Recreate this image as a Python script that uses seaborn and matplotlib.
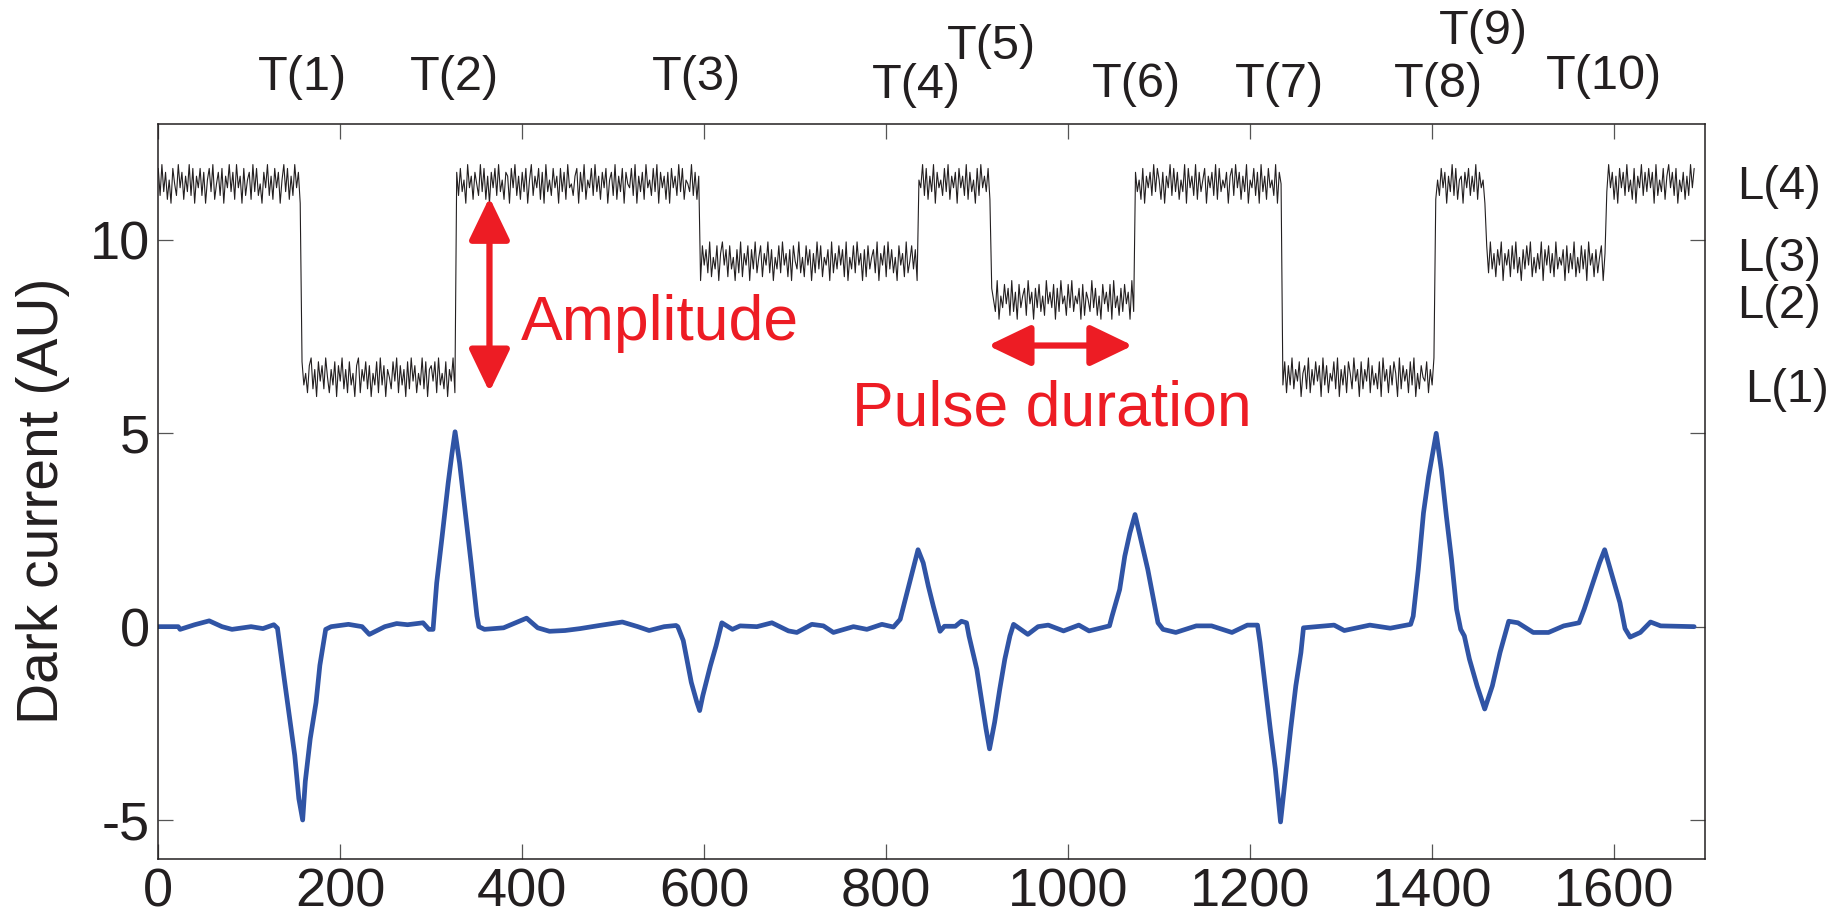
import numpy as np
import pandas as pd
import matplotlib
matplotlib.use("Agg")
import matplotlib.pyplot as plt
import seaborn as sns

# --- data ---
# black trace: signal levels between transitions T(1)..T(10)
level_edges = [0, 158, 327, 596, 835, 915, 1073, 1235, 1404, 1459, 1592]
level_values = [11.45, 6.45, 11.45, 9.45, 11.45, 8.45, 11.45, 6.45, 11.45, 9.45, 11.45]
trace_step = 2  # one sample every 2 units
# jitter on the black trace, in tenths, one value per sample
jitter = [
    4, -3, 5, -2, 3, -4, 1, -5, 4, 0, -3, 5, -1, 3, -4, 2, -2, 5, -3, 4,
    -5, 2, -1, 4, -3, 3, -5, 1, 4, -2, 5, -4, 0, 3, -3, 4, -5, 2, -1, 5,
    -2, 3, -4, 5, -1, 2, -5, 4, -3, 1, 3, -4, 5, -2, 4, -3, 0, -5, 3, -1,
    5, -3, 2, -4, 4, -1, 3, -5, 1, 5, -2, 4, -4, 2, -3, 5, -1, 3, -5, 4,
    -2, 1, -4, 3, 5, -3, 2, -5, 4, -1, 3, -3, 5, 0, -4, 2, -2, 4, -5, 3,
    -1, 5, -3, 2, -4, 4, -2, 1, -5, 3, 5, -4, 2, -1, 4, -3, 3, -5, 1, -2,
    4, -4, 5, -2, 3, -5, 2, 0, -3, 4, -1, 5, -4, 3, -2, 2, -5, 4, -3, 5,
    -1, 3, -4, 1, -2, 5, -3, 4, -5, 2, 3, -1, 4, -4, 5, -2, 1, -3, 4, -5,
    2, -1, 5, -4, 3, -3, 4, -2, 1, -5, 5, -1, 2, -4, 3, 0, -3, 5, -2, 4,
    -4, 2, -5, 3, -1, 4, -3, 5, -2, 1, -4, 3, 2, -5, 4, -1, 5, -3, 2, -4,
    3, -2, 4, -5, 1, 5, -3, 2, -1, 4, -4, 3, -5, 5, -2, 1, -3, 4, -1, 2,
    -5, 4, -2, 3, -4, 5, -1, 0, -3, 2, 4, -5, 3, -2, 5, -4, 1, -1, 4, -3,
    5, -2, 2, -4, 3, -1, 4, -5, 1, 3, -3, 5, -4, 2, -2, 4, -5, 3, 0, -1,
    4, -3, 5, -5, 2, -2, 3, -4, 5, -1, 1, -3, 4, -2, 5, -5, 3, -1, 2, -4,
    3, -5, 4, -1, 2, -3, 5, -2, 4, -4, 1, 0, -2, 5, -3, 3, -4, 2, -5, 4,
    -1, 3, -3, 5, -4, 1, -2, 4, -5, 2, 5, -1, 3, -4, 4, -2, 1, -5, 3, -3,
    5, -4, 2, -1, 4, -5, 3, -2, 5, -3, 1, 4, -4, 2, -1, 5, -3, 3, -5, 1,
    -2, 4, -3, 5, -1, 2, -4, 3, -5, 4, 0, -2, 5, -3, 1, -4, 4, -1, 3, -5,
    2, -3, 5, -2, 4, -4, 1, -1, 3, -5, 5, -3, 2, -2, 4, -1, 3, -4, 5, -5,
    1, -2, 4, -3, 5, -1, 2, -5, 3, -4, 4, -2, 1, 3, -3, 5, -5, 2, -1, 4,
    -4, 5, -2, 3, -3, 1, -5, 4, -1, 2, -4, 5, -3, 0, 4, -2, 3, -5, 1, -1,
    5, -3, 4, -4, 2, -2, 5, -5, 3, -1, 1, -3, 4, -2, 5, -4, 2, -1, 3, -5,
    4, -1, 2, -3, 5, -4, 3, -2, 1, -5, 4, -3, 5, -1, 2, -2, 4, -4, 3, 0,
    -3, 5, -5, 1, -2, 4, -1, 3, -4, 5, -3, 2, -5, 4, -2, 1, 3, -4, 5, -1,
    2, -5, 3, -2, 4, -3, 1, -4, 5, -1, 2, -2, 4, -5, 3, -3, 5, -1, 1, -4,
    4, -2, 5, -3, 1, -1, 3, -5, 4, -4, 2, 0, -3, 5, -2, 3, -4, 1, -5, 4,
    -1, 2, -3, 4, -5, 5, -2, 1, -4, 3, -3, 4, -1, 2, -5, 5, -3, 3, -2, 1,
    -4, 4, -5, 2, -1, 3, -3, 5, -2, 4, 1, -4, 3, -5, 2, -1, 5, -3, 4, -2,
    3, -4, 1, -2, 5, -5, 4, -1, 2, -3, 5, -4, 3, -2, 1, 4, -5, 2, -1, 3,
    -3, 5, -4, 4, -2, 1, -1, 3, -5, 2, 4, -3, 5, -1, 3, -4, 2, -2, 5, -5,
    1, -1, 4, -3, 3, -5, 5, -2, 2, -4, 4, -1, 1, -3, 5, -5, 3, 0, -2, 4,
    -4, 3, -2, 5, -3, 2, -1, 4, -5, 1, 3, -3, 5, -4, 2, -2, 4, -1, 3, -5,
    5, -2, 3, -4, 1, -1, 4, -3, 5, -5, 2, -2, 3, -4, 4, 1, -3, 5, -1, 2,
    -5, 4, -3, 2, -1, 5, -4, 3, -2, 1, -3, 4, -5, 5, -1, 2, -4, 3, -2, 4,
    1, -5, 5, -3, 3, -1, 2, -4, 4, -2, 5, -5, 1, -3, 3, 0, -1, 4, -4, 2,
    -2, 5, -4, 1, -3, 4, -1, 3, -5, 2, -2, 5, -3, 4, -4, 1, 2, -5, 3, -1,
    4, -3, 2, -2, 5, -4, 3, -1, 1, -5, 4, -3, 5, -2, 2, -4, 3, -1, 5, -5,
    2, -1, 3, -4, 4, -2, 5, -3, 1, -5, 3, -2, 4, -1, 5, -4, 1, -3, 2, -2,
    5, -5, 3, -1, 4, -3, 2, -4, 5, -2, 1, -1, 3, -5, 4, -3, 2, -2, 5, -4,
    1, -3, 4, -2, 3, -5, 5, -1, 2, -4, 3, -3, 1, 4, -5, 2, -2, 5, -1, 3,
    -4, 2, -5, 4, -1, 3, -3, 5, -2, 1, -4, 4, -5, 2, -1, 5, -3, 3, -2, 4,
    -1, 3, -5, 5, -3, 1, -2, 4, -4, 2, 5, -1, 3, -3, 4, -5, 1, -2, 3, -4,
    2, -3, 5, -1, 4,
]

# blue trace: vertices of the filtered signal
blue_x = [0, 22, 24, 40, 56, 70, 81, 102, 115, 127, 131,
          138, 144, 150, 154.5, 158.7, 161.6, 167, 173.4, 177.6, 184,
          190, 209, 224, 232, 249, 262, 274, 291, 297.5, 302,
          306, 312, 318.6, 322.8, 326.2, 331.2, 337.5, 343.8, 350.2, 352.3,
          358.5, 379.5, 404.8, 417, 430, 447, 463.7, 484.8, 510, 527, 539.5, 556, 569, 571,
          577, 585.8, 592, 595, 598.4, 606.8, 613, 619.4,
          631, 639.5, 658, 674.4, 692.6, 701.8, 718.3, 731, 742, 764, 778.8, 795.3, 808,
          815.4, 823.8, 829.4, 835, 840.7, 846.3, 851.9, 859.2, 864, 876, 882.7, 888.3,
          891, 899.6, 905.2, 909.7, 913.6, 919.2, 924.8, 930.4, 936, 940,
          955.7, 966.9, 978.1, 994.9, 1011.7, 1023, 1045.4,
          1048.2, 1056.6, 1062.2, 1067.8, 1073.5, 1079.1, 1087.5, 1093.1, 1098.7, 1104.3,
          1118.3, 1140.8, 1157.6, 1180, 1196.9, 1208.1,
          1210.9, 1216.5, 1222.1, 1227.7, 1233.4, 1239, 1244.6, 1250.2, 1255.8, 1258.6,
          1292.3, 1303.5, 1331.5, 1354, 1376.4,
          1379.2, 1384.8, 1390.5, 1396.1, 1404.5, 1410.1, 1415.7, 1421.3, 1426.9, 1431.4,
          1435.4, 1441, 1449.4, 1457.8, 1466.2, 1474.6, 1484.2,
          1494.3, 1511.1, 1527.9, 1544.7, 1561.5,
          1567.1, 1575.5, 1584, 1589.6, 1598, 1606.4, 1612, 1617.6, 1628.8, 1640, 1651.2, 1688]
blue_y = [0, 0, -0.07, 0.05, 0.15, 0.0, -0.07, 0.0, -0.05, 0.05, -0.04,
          -1.27, -2.3, -3.33, -4.45, -5.0, -4.0, -2.9, -1.96, -1.0, -0.07,
          0.0, 0.06, 0.0, -0.2, 0.0, 0.08, 0.05, 0.1, -0.07, -0.07,
          1.13, 2.34, 3.71, 4.48, 5.04, 4.23, 2.94, 1.65, 0.28, 0.0,
          -0.07, -0.03, 0.22, -0.03, -0.12, -0.1, -0.05, 0.03, 0.12, 0.0, -0.1, 0.0, 0.03, 0.0,
          -0.36, -1.44, -1.96, -2.17, -1.79, -1.01, -0.5, 0.1,
          -0.07, 0.02, 0.0, 0.1, -0.11, -0.15, 0.06, 0.02, -0.15, 0.0, -0.07, 0.06, -0.01,
          0.19, 0.96, 1.48, 1.99, 1.65, 1.05, 0.52, -0.12, 0.01, 0.01, 0.14, 0.1,
          -0.24, -1.1, -1.96, -2.64, -3.16, -2.47, -1.62, -0.84, -0.24, 0.06,
          -0.2, 0.0, 0.04, -0.11, 0.04, -0.11, 0.02,
          0.27, 0.96, 1.82, 2.42, 2.9, 2.33, 1.48, 0.79, 0.1, -0.07,
          -0.15, 0.02, 0.02, -0.15, 0.04, 0.04,
          -0.41, -1.53, -2.64, -3.68, -5.05, -3.85, -2.64, -1.53, -0.67, -0.03,
          0.04, -0.1, 0.04, -0.04, 0.06,
          0.27, 1.48, 2.94, 3.88, 5.0, 4.06, 2.85, 1.74, 0.45, -0.07,
          -0.24, -0.84, -1.53, -2.13, -1.53, -0.67, 0.14,
          0.1, -0.15, -0.15, 0.02, 0.1,
          0.45, 1.05, 1.65, 1.99, 1.31, 0.62, -0.05, -0.27, -0.15, 0.12, 0.02, 0.0]

t_labels = ["T(1)", "T(2)", "T(3)", "T(4)", "T(5)", "T(6)", "T(7)", "T(8)", "T(9)", "T(10)"]
t_label_x = [159, 326, 592, 833, 916, 1075, 1232, 1407, 1456, 1589]
t_label_y = [1.063, 1.063, 1.063, 1.053, 1.105, 1.054, 1.054, 1.054, 1.126, 1.064]

l_labels = ["L(4)", "L(3)", "L(2)", "L(1)"]
l_label_y = [11.37, 9.5, 8.28, 6.12]
l_label_x = [1.0205, 1.0205, 1.0205, 1.026]

# --- build the black trace ---
trace_x = np.arange(len(jitter)) * trace_step
lvl_idx = np.searchsorted(level_edges, trace_x, side="right") - 1
trace_y = np.array(level_values)[lvl_idx] + np.array(jitter) / 10.0
trace = pd.DataFrame({"x": trace_x, "y": trace_y})
blue = pd.DataFrame({"x": blue_x, "y": blue_y})

sns.set_theme(style="white")
plt.rcParams["font.family"] = ["Liberation Sans", "DejaVu Sans"]
plt.rcParams["axes.unicode_minus"] = False

ink = "#231F20"
red = "#ED1C24"
blue_col = "#3054A5"

fig = plt.figure(figsize=(18.36, 9.23), dpi=100)
ax = fig.add_axes([0.0862, 0.0697, 0.8425, 0.796])

sns.lineplot(data=trace, x="x", y="y", estimator=None, color=ink, linewidth=0.8, ax=ax)
sns.lineplot(data=blue, x="x", y="y", estimator=None, color=blue_col, linewidth=3.4, ax=ax)

ax.set_xlim(0, 1700)
ax.set_ylim(-6, 13)
ax.set_xticks(range(0, 1700, 200))
ax.set_yticks([-5, 0, 5, 10])
ax.set_xlabel("")
ax.set_ylabel("Dark current (AU)", fontsize=41, color=ink)
ax.yaxis.set_label_coords(-0.057, 0.487)

ax.tick_params(axis="both", which="major", direction="in", length=11, width=0.9,
               color="#555555", labelsize=39, labelcolor=ink, pad=6,
               top=True, right=True, bottom=True, left=True)
for sp in ax.spines.values():
    sp.set_visible(True)
    sp.set_color(ink)
    sp.set_linewidth(1.1)

# transition labels above the axes
for lab, tx, ty in zip(t_labels, t_label_x, t_label_y):
    ax.text(tx, ty, lab, transform=ax.get_xaxis_transform(), ha="center", va="center",
            fontsize=35, color=ink, clip_on=False)

# level labels on the right
for lab, lx, ly in zip(l_labels, l_label_x, l_label_y):
    ax.text(lx, ly, lab, transform=ax.get_yaxis_transform(), ha="left", va="center",
            fontsize=34, color=ink, clip_on=False)

# annotations
arrow_style = "<|-|>,head_length=2.6,head_width=1.25"
ax.annotate("", xy=(364, 11.1), xytext=(364, 6.07),
            arrowprops=dict(arrowstyle=arrow_style, mutation_scale=10, lw=4.5,
                            color=red, shrinkA=0, shrinkB=0))
ax.annotate("", xy=(912, 7.27), xytext=(1071, 7.27),
            arrowprops=dict(arrowstyle=arrow_style, mutation_scale=10, lw=4.5,
                            color=red, shrinkA=0, shrinkB=0))
ax.text(399, 7.41, "Amplitude", color=red, fontsize=45, ha="left", va="baseline")
ax.text(762, 5.21, "Pulse duration", color=red, fontsize=45, ha="left", va="baseline")

fig.savefig("out.png", dpi=100)
